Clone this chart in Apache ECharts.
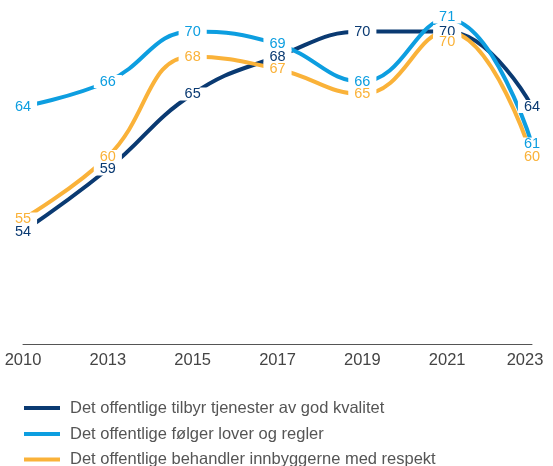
<!DOCTYPE html>
<html><head><meta charset="utf-8">
<script src="https://cdn.jsdelivr.net/npm/echarts@6/dist/echarts.min.js"></script>
<style>html,body{margin:0;padding:0;background:#fff}#c{width:553px;height:466px}</style>
</head><body><div id="c"></div>
<script>
var years = ['2010','2013','2015','2017','2019','2021','2023'];
var seriesNames = ['Det offentlige tilbyr tjenester av god kvalitet','Det offentlige følger lover og regler','Det offentlige behandler innbyggerne med respekt'];
var kvalitet = [54,59,65,68,70,70,64];
var lover = [64,66,70,69,66,71,61];
var respekt = [55,60,68,67,65,70,60];
var colors = ['#0a3a72','#0d9ee0','#fab239'];
var FONT = 'Liberation Sans, Arial, sans-serif';

function mk(name, data, color, extra){
  var s = {
    name: name, type: 'line', data: data, smooth: 0.45,
    symbol: 'circle', symbolSize: 0,
    lineStyle: {width: 4, color: color},
    itemStyle: {color: color},
    label: {show: true, position: 'inside', color: color, fontSize: 14.5, lineHeight: 13,
      fontFamily: FONT, backgroundColor: '#fff', padding: [0,6,0,6]},
    labelLayout: {hideOverlap: false},
    emphasis: {disabled: true}
  };
  if (extra) Object.assign(s, extra);
  return s;
}
function lg(i, centerY){
  return {orient: 'vertical', left: 24, top: centerY - 9, padding: 0, itemWidth: 36, itemHeight: 4,
    icon: 'rect', data: [seriesNames[i]], selectedMode: false,
    textStyle: {color: '#555', fontSize: 16.5, lineHeight: 18, fontFamily: FONT, padding: [0,0,0,5]}};
}
var chart = echarts.init(document.getElementById('c'));
chart.setOption({
  animation: false,
  grid: {left: 23, right: 21, top: 6.5, bottom: 122},
  xAxis: {type: 'category', data: years, boundaryGap: false,
    axisLine: {lineStyle: {color: '#555', width: 1}},
    axisTick: {show: false},
    axisLabel: {color: '#444', fontSize: 16.5, margin: 8, fontFamily: FONT,
      formatter: function(v, i){ return i === years.length-1 ? '{l|' + v + '}' : v; },
      rich: {l: {padding: [0,14,0,0], fontSize: 16.5, color: '#444', fontFamily: FONT}}}
  },
  yAxis: {type: 'value', min: 45, max: 72, show: false, splitLine: {show: false}},
  legend: [lg(0, 408), lg(1, 434), lg(2, 459.5)],
  series: [
    mk(seriesNames[0], kvalitet, colors[0]),
    mk(seriesNames[2], respekt, colors[2], {labelLayout: function(p){ return p.dataIndex === 5 ? {dy: 10, hideOverlap: false} : {hideOverlap: false}; }}),
    mk(seriesNames[1], lover, colors[1], {labelLayout: function(p){ return p.dataIndex === 5 ? {dy: -2, hideOverlap: false} : {hideOverlap: false}; }})
  ]
});
</script></body></html>
